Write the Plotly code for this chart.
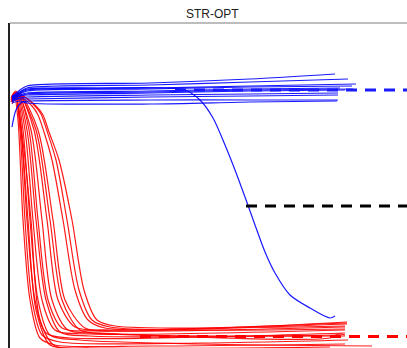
import plotly.graph_objects as go

# ---- data (x: step, y: score) ----
blue_x = [
    [2, 10, 17, 140, 240, 325],
    [2, 10, 17, 140, 240, 338],
    [2, 10, 17, 140, 240, 346],
    [2, 10, 17, 140, 240, 342],
    [2, 10, 17, 140, 240, 330],
    [2, 10, 17, 140, 240, 343],
    [2, 10, 17, 140, 240, 335],
    [2, 10, 17, 140, 240, 328],
    [2, 10, 17, 140, 240, 328],
    [2, 6, 12, 20, 140, 240, 328],
    [2, 10, 17, 140, 240, 327],
    [2, 10, 17, 90, 155, 175, 190, 203, 215, 225, 235, 245, 255, 265, 280, 300, 320, 325],
]
blue_y = [
    [251, 258, 262, 265, 269, 274],
    [249, 256, 260, 263, 266, 269],
    [252, 255, 258, 260, 262, 264],
    [248, 254, 257, 259, 261, 262],
    [250, 253, 255, 257, 259, 260],
    [247, 252, 254, 256, 258, 259],
    [251, 252, 253, 255, 257, 258],
    [246, 250, 251, 253, 254, 255],
    [249, 249, 249, 251, 252, 253],
    [221, 238, 246, 247, 248, 248, 248],
    [245, 247, 245, 244, 246, 247],
    [250, 256, 259, 260, 260, 258, 248, 230, 203, 178, 151, 123, 96, 75, 53, 40, 30, 32],
]

red_x = [
    [1, 4, 8, 13, 20, 30, 45, 140, 335],
    [1, 5, 10, 15, 22, 32, 50, 190, 338],
    [1, 5, 11, 17, 25, 36, 60, 190, 335],
    [2, 6, 13, 20, 28, 40, 70, 190, 362],
    [2, 7, 15, 23, 32, 45, 80, 335],
    [2, 7, 17, 26, 36, 50, 80, 330],
    [2, 8, 19, 28, 38, 52, 85, 337],
    [2, 8, 21, 32, 42, 58, 90, 320, 328, 335],
    [2, 9, 24, 37, 48, 65, 100, 337],
    [2, 9, 26, 40, 52, 70, 100, 335],
    [2, 9, 28, 43, 55, 75, 105, 335],
    [3, 10, 22, 28, 34, 42, 53, 65, 78, 95, 337],
    [3, 11, 24, 31, 37, 46, 57, 69, 82, 100, 335],
    [3, 12, 26, 33, 39, 49, 62, 74, 87, 105, 335],
    [2, 6, 12, 18, 26, 40, 60, 320],
    [2, 6, 14, 21, 30, 45, 80, 290],
]
red_y = [
    [248, 255, 228, 128, 48, 10, 3, 2, 4],
    [250, 256, 218, 128, 48, 13, 6, 5, 8],
    [246, 254, 218, 128, 48, 15, 10, 11, 15],
    [252, 257, 218, 128, 48, 13, 8, 4, 2],
    [248, 254, 218, 128, 48, 18, 14, 18],
    [251, 256, 218, 128, 48, 16, 12, 13],
    [249, 255, 218, 128, 48, 20, 17, 24],
    [247, 253, 218, 128, 48, 18, 15, 10, 14, 13],
    [250, 254, 218, 128, 48, 21, 18, 25],
    [248, 253, 218, 128, 48, 18, 14, 12],
    [251, 255, 218, 128, 48, 20, 17, 21],
    [249, 251, 242, 233, 216, 188, 128, 58, 28, 20, 26],
    [251, 253, 243, 234, 217, 188, 128, 58, 28, 21, 19],
    [250, 252, 242, 233, 216, 188, 128, 58, 28, 22, 22],
    [246, 252, 208, 128, 38, 3, 0, 1],
    [244, 250, 198, 128, 28, 2, 0, 0],
]

ref_names = ["blue", "black", "red"]
ref_levels = [258, 142, 11.5]
ref_starts = [165, 236, 130]
ref_end = 397

title_text = "STR-OPT"

fig = go.Figure()

for xs, ys in zip(red_x, red_y):
    fig.add_trace(go.Scatter(x=xs, y=ys, mode="lines",
                             line=dict(color="rgba(255,0,0,0.9)", width=1.2,
                                       shape="spline", smoothing=0.8),
                             hoverinfo="skip", showlegend=False))
for xs, ys in zip(blue_x, blue_y):
    fig.add_trace(go.Scatter(x=xs, y=ys, mode="lines",
                             line=dict(color="rgba(0,0,255,0.9)", width=1.2,
                                       shape="spline", smoothing=0.8),
                             hoverinfo="skip", showlegend=False))

ref_colors = {"blue": "#1a1aff", "black": "#000000", "red": "#ff0000"}
for name, lvl, st in zip(ref_names, ref_levels, ref_starts):
    fig.add_trace(go.Scatter(x=[st, ref_end], y=[lvl, lvl], mode="lines",
                             line=dict(color=ref_colors[name], width=3, dash="11px,8px"),
                             hoverinfo="skip", showlegend=False))

fig.add_shape(type="line", xref="paper", yref="paper", x0=0, x1=1, y0=1, y1=1,
              line=dict(color="#bdbdbd", width=2))

fig.add_annotation(text=title_text, xref="paper", yref="paper",
                   x=0.509, y=1.029, xanchor="center", yanchor="middle",
                   showarrow=False,
                   font=dict(family="Liberation Sans, Arial, sans-serif", size=12, color="#222"))

fig.update_layout(
    width=407, height=348,
    margin=dict(l=10, r=0, t=23, b=0),
    paper_bgcolor="white", plot_bgcolor="white",
    xaxis=dict(range=[0, 397], showgrid=False, zeroline=False, showticklabels=False,
               ticks="", showline=False),
    yaxis=dict(range=[0, 325], showgrid=False, zeroline=False, showticklabels=False,
               ticks="", showline=True, linecolor="#222", linewidth=1.5),
)

fig.write_html("out.html")
